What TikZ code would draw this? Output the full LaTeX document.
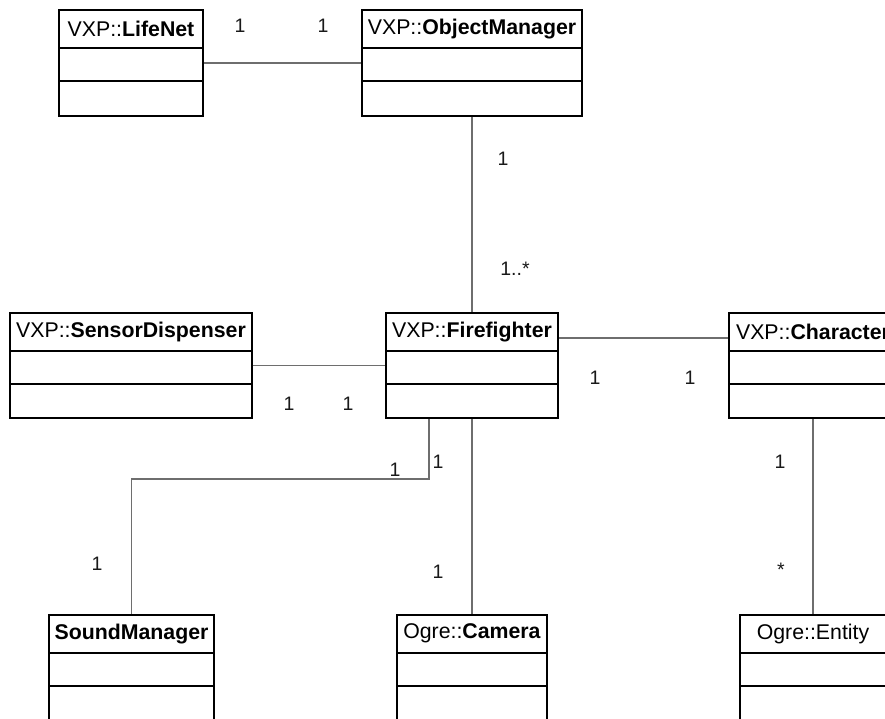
\documentclass[tikz,border=0pt]{standalone}
\usepackage{fontspec}
\setmainfont{Liberation Sans}
\usetikzlibrary{fit}

% UML class: name, corner 1, corner 2, title
\newcommand\umlclass[4]{%
  \node[classbox, fit={#2 #3}] (#1) {};
  \draw[divider] ([yshift=-39pt]#1.north west) -- ([yshift=-39pt]#1.north east);
  \draw[divider] ([yshift=-72pt]#1.north west) -- ([yshift=-72pt]#1.north east);
  \node[classtitle] (#1-title) at ([yshift=-19.5pt]#1.north) {#4};
}

\begin{document}
\begin{tikzpicture}[x=1pt,y=-1pt,
  classbox/.style={draw=black, line width=1.8pt, inner sep=0pt, fill=white},
  divider/.style={draw=black, line width=1.8pt},
  classtitle/.style={inner sep=0pt, font=\fontsize{21.3}{25}\selectfont, text=black},
  assoc/.style={draw={rgb,255:red,110;green,110;blue,110}, line width=1.3pt},
  mult/.style={anchor=base, inner sep=0pt, font=\fontsize{19.5}{23}\selectfont, text={rgb,255:red,25;green,25;blue,25}}]

\useasboundingbox[fill=white] (0,0) rectangle (885,718);

\coordinate (smbend) at (429,479);

% classes
\umlclass{lifenet}{(59,10)}{(203,116)}{VXP::\textbf{LifeNet}}
\umlclass{om}{(362,10)}{(582,116)}{VXP::\textbf{ObjectManager}}
\umlclass{sensor}{(10,313)}{(252,418)}{VXP::\textbf{SensorDispenser}}
\umlclass{ff}{(386,313)}{(558,418)}{VXP::\textbf{Firefighter}}
\umlclass{char}{(729,313)}{(897,418)}{VXP::\textbf{Character}}
\umlclass{sm}{(49,615)}{(214,721)}{\textbf{SoundManager}}
\umlclass{cam}{(397,615)}{(547,721)}{Ogre::\textbf{Camera}}
\umlclass{ent}{(740,615)}{(886,721)}{Ogre::Entity}

% associations
\draw[assoc] (lifenet.east) -- (om.west);
\draw[assoc] (om.south) -- (ff.north);
\draw[assoc] (sensor.east) -- (ff.west);
\draw[assoc] ([yshift=-26pt]ff.north east) -- ([yshift=-26pt]char.north west);
\draw[assoc] ([xshift=-43pt]ff.south) -- (smbend) -| (sm.north);
\draw[assoc] (ff.south) -- (cam.north);
\draw[assoc] (char.south) -- (ent.north);

% multiplicities
\node[mult] (m1) at (240,32) {1};
\node[mult] (m2) at (323,32) {1};
\node[mult] (m3) at (503,165) {1};
\node[mult] (m4) at (515,275) {1..*};
\node[mult] (m5) at (289,410) {1};
\node[mult] (m6) at (348,410) {1};
\node[mult] (m7) at (595,384) {1};
\node[mult] (m8) at (690,384) {1};
\node[mult] (m9) at (395,476) {1};
\node[mult] (m10) at (438,468) {1};
\node[mult] (m11) at (780,468) {1};
\node[mult] (m12) at (97,570) {1};
\node[mult] (m13) at (438,578) {1};
\node[mult] (m14) at (781,576) {*};
\end{tikzpicture}
\end{document}
